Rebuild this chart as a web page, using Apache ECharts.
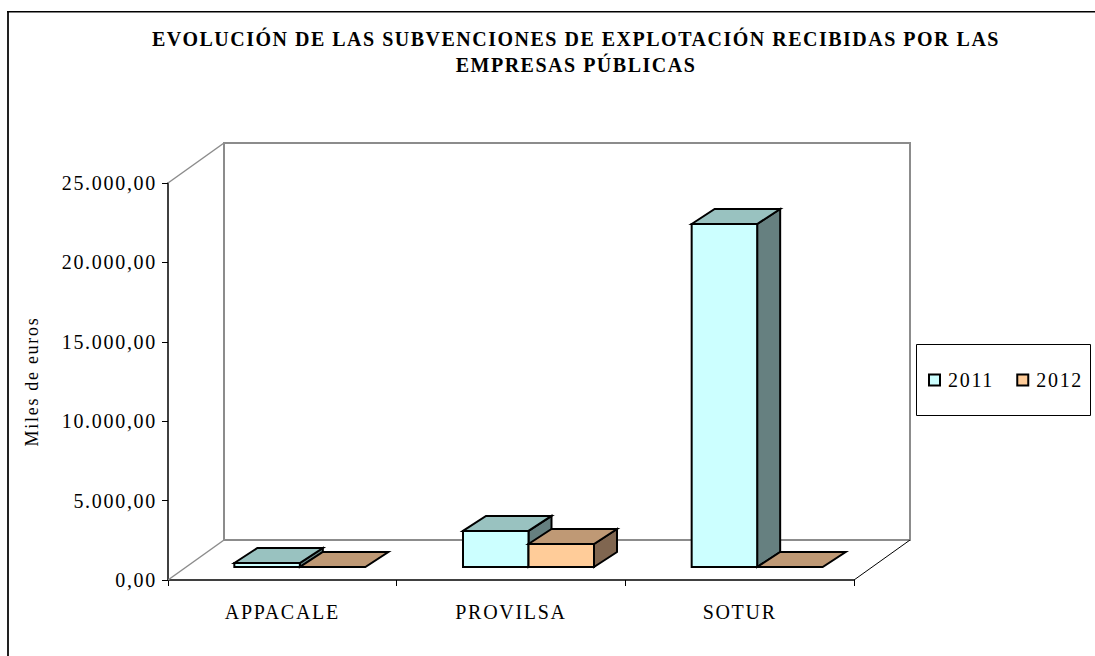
<!DOCTYPE html>
<html>
<head>
<meta charset="utf-8">
<style>
html,body{margin:0;padding:0;background:#fff;overflow:hidden}
#c{width:1095px;height:656px}
#c text{letter-spacing:1.7px}
#c text[style*="bold"]{letter-spacing:1.5px}
</style>
<script src="https://cdn.jsdelivr.net/npm/echarts@6/dist/echarts.min.js"></script>
</head>
<body>
<div id="c"></div>
<script>
const categories = ['APPACALE', 'PROVILSA', 'SOTUR'];
const seriesNames = ['2011', '2012'];
const values2011 = [250, 2270, 21600];
const values2012 = [0, 1450, 0];
const yTicks = { min: 0, max: 25000, interval: 5000 };
const titleText = 'EVOLUCIÓN DE LAS SUBVENCIONES DE EXPLOTACIÓN RECIBIDAS POR LAS\nEMPRESAS PÚBLICAS';
const yName = 'Miles de euros';

const FONT = '"Liberation Serif","Times New Roman",serif';
const faces = [
  { front: '#CCFFFF', top: '#99C2C0', side: '#668080' },
  { front: '#FFCC99', top: '#BF9975', side: '#806650' }
];
// 3D projection constants (pixels)
const WALL = { dx: 56, dy: -40 };
const BAR = { dx: 23, dy: -15, baseDx: -48, baseDy: -13, width: 65.5 };

function fmt(v) {
  return v.toLocaleString('es-ES', { minimumFractionDigits: 2, maximumFractionDigits: 2, useGrouping: 'always' });
}

function wallRender(params, api) {
  const o = api.coord([0, yTicks.min]);
  const band = api.size([1, 0])[0];
  const left = o[0] - band / 2;
  const right = left + band * categories.length;
  const bottom = o[1];
  const top = api.coord([0, yTicks.max])[1];
  const ln = (x1, y1, x2, y2, stroke, w) => ({
    type: 'line', shape: { x1, y1, x2, y2 }, style: { stroke, lineWidth: w, fill: null }
  });
  const g = '#8C8C8C';
  const bx = WALL.dx, by = WALL.dy;
  return {
    type: 'group',
    children: [
      { type: 'polyline', shape: { points: [[left + bx, bottom + by], [left + bx, top + by], [right + bx, top + by], [right + bx, bottom + by], [left + bx, bottom + by]] }, style: { stroke: g, lineWidth: 2, fill: '#fff' } },
      ln(left, top, left + bx, top + by, g, 1.5),
      ln(left, bottom, left + bx, bottom + by, g, 1.5),
      ln(right, bottom, right + bx, bottom + by, '#000', 1)
    ]
  };
}

function barRender(sIdx) {
  return function (params, api) {
    const cat = api.value(0);
    const top = api.coord([cat, api.value(1)]);
    const base = api.coord([cat, 0]);
    const x0 = base[0] + BAR.baseDx + sIdx * BAR.width;
    const x1 = x0 + BAR.width;
    const yb = base[1] + BAR.baseDy;
    const yt = top[1] + BAR.baseDy;
    const f = faces[sIdx];
    const poly = (points, fill) => ({
      type: 'polygon', shape: { points },
      style: { fill, stroke: '#000', lineWidth: 2, lineJoin: 'miter' }
    });
    const kids = [];
    if (yb - yt > 0.5) {
      kids.push(poly([[x1, yt], [x1 + BAR.dx, yt + BAR.dy], [x1 + BAR.dx, yb + BAR.dy], [x1, yb]], f.side));
      kids.push(poly([[x0, yt], [x1, yt], [x1, yb], [x0, yb]], f.front));
    }
    kids.push(poly([[x0, yt], [x0 + BAR.dx, yt + BAR.dy], [x1 + BAR.dx, yt + BAR.dy], [x1, yt]], f.top));
    return { type: 'group', children: kids };
  };
}

const chart = echarts.init(document.getElementById('c'), null, { renderer: 'svg', width: 1095, height: 656 });
chart.setOption({
  animation: false,
  backgroundColor: '#fff',
  title: {
    text: titleText,
    left: 571, top: 21, textAlign: 'center',
    textStyle: { fontFamily: FONT, fontSize: 20, fontWeight: 'bold', color: '#000', lineHeight: 26 }
  },
  legend: {
    show: true,
    data: seriesNames,
    left: 928, top: 370,
    padding: 0,
    icon: 'rect',
    itemWidth: 11, itemHeight: 11, itemGap: 29,
    itemStyle: { borderColor: '#000', borderWidth: 2 },
    textStyle: { fontFamily: FONT, fontSize: 20, color: '#000', padding: [0, 0, 0, 3] }
  },
  grid: { left: 168, right: 241, top: 183, bottom: 76 },
  xAxis: {
    type: 'category',
    data: categories,
    axisLine: { lineStyle: { color: '#000', width: 1.5 } },
    axisTick: { show: true, length: 6, lineStyle: { color: '#000' } },
    axisLabel: { fontFamily: FONT, fontSize: 20, color: '#000', margin: 22 }
  },
  yAxis: {
    type: 'value',
    min: yTicks.min, max: yTicks.max, interval: yTicks.interval,
    name: yName,
    nameLocation: 'middle',
    nameGap: 127,
    nameTextStyle: { fontFamily: FONT, fontSize: 18, color: '#000' },
    splitLine: { show: false },
    axisLine: { show: true, lineStyle: { color: '#000', width: 1.5 } },
    axisTick: { show: true, length: 6, lineStyle: { color: '#000' } },
    axisLabel: { fontFamily: FONT, fontSize: 20, color: '#000', margin: 11, formatter: fmt }
  },
  series: [
    { type: 'custom', name: '_wall', z: 1, silent: true, renderItem: wallRender, data: [[0, 0]], encode: { x: 0, y: 1 }, clip: false },
    { type: 'custom', name: seriesNames[0], z: 3, renderItem: barRender(0), itemStyle: { color: faces[0].front }, data: categories.map((c, i) => [i, values2011[i]]), encode: { x: 0, y: 1 }, clip: false },
    { type: 'custom', name: seriesNames[1], z: 4, renderItem: barRender(1), itemStyle: { color: faces[1].front }, data: categories.map((c, i) => [i, values2012[i]]), encode: { x: 0, y: 1 }, clip: false }
  ],
  graphic: [
    { type: 'line', silent: true, z: 0, shape: { x1: 8, y1: 11, x2: 8, y2: 660 }, style: { stroke: '#222', lineWidth: 2 } },
    { type: 'line', silent: true, z: 0, shape: { x1: 7, y1: 11.75, x2: 1100, y2: 11.75 }, style: { stroke: '#000', lineWidth: 1.5 } },
    { type: 'rect', silent: true, z: 0, shape: { x: 916.5, y: 344.5, width: 174, height: 71 }, style: { stroke: '#000', lineWidth: 1, fill: '#fff' } }
  ]
});
</script>
</body>
</html>
